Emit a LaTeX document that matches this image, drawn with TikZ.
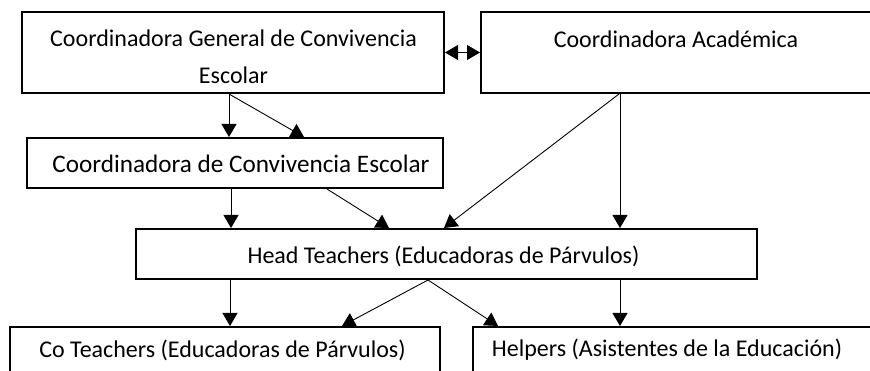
\documentclass[tikz,border=0pt]{standalone}
\usepackage{fontspec}
\setmainfont{Carlito}
\usetikzlibrary{arrows.meta}
\begin{document}
\begin{tikzpicture}[x=1pt,y=-1pt,
  box/.style={draw=black,line width=2pt,rectangle,inner sep=0pt,fill=white},
  txt/.style={font=\fontsize{24}{37}\selectfont,align=center,inner sep=0pt},
  arr/.style={line width=0.9pt,-{Triangle[length=13pt,width=15pt]}},
  arrb/.style={line width=0.9pt,{Triangle[length=13pt,width=15pt]}-{Triangle[length=13pt,width=15pt]}}]
\useasboundingbox (0,0) rectangle (870,371);
\clip (0,0) rectangle (870,371);
% boxes
\node[box,minimum width=422pt,minimum height=81pt] (b1) at (233,52.5) {};
\node[box,minimum width=392pt,minimum height=81pt] (b2) at (677,52.5) {};
\node[box,minimum width=416pt,minimum height=50pt] (b3) at (235,163) {};
\node[box,minimum width=621pt,minimum height=50pt] (b4) at (446.5,254) {};
\node[box,minimum width=430pt,minimum height=73pt] (b5) at (225,363.5) {};
\node[box,minimum width=400pt,minimum height=73pt] (b6) at (673,363.5) {};
% texts
\node[txt] (t1) at (233.5,57) {Coordinadora General de Convivencia\\Escolar};
\node[txt] (t2) at (676,39) {Coordinadora Académica};
\node[txt,font=\fontsize{25.2}{30}\selectfont] (t3) at (241,164) {Coordinadora de Convivencia Escolar};
\node[txt] (t4) at (443.5,256) {Head Teachers (Educadoras de Párvulos)};
\node[txt] (t5) at (222.5,350) {Co Teachers (Educadoras de Párvulos)};
\node[txt] (t6) at (667,350) {Helpers (Asistentes de la Educación)};
% connectors
\draw[arrb] (b1.east) -- (b2.west);
\draw[arr] ([xshift=208pt]b1.south west) -- ([xshift=203pt]b3.north west);
\draw[arr] ([xshift=208pt]b1.south west) -- ([xshift=278pt]b3.north west);
\draw[arr] ([xshift=205pt]b3.south west) -- ([xshift=96pt]b4.north west);
\draw[arr] ([xshift=301pt]b3.south west) -- ([xshift=254pt]b4.north west);
\draw[arr] ([xshift=139pt]b2.south west) -- ([xshift=309pt]b4.north west);
\draw[arr] ([xshift=140pt]b2.south west) -- ([xshift=485pt]b4.north west);
\draw[arr] ([xshift=95pt]b4.south west) -- ([xshift=221pt]b5.north west);
\draw[arr] ([xshift=293pt]b4.south west) -- ([xshift=333pt]b5.north west);
\draw[arr] ([xshift=293pt]b4.south west) -- ([xshift=26pt]b6.north west);
\draw[arr] ([xshift=485pt]b4.south west) -- ([xshift=148pt]b6.north west);
\end{tikzpicture}
\end{document}
